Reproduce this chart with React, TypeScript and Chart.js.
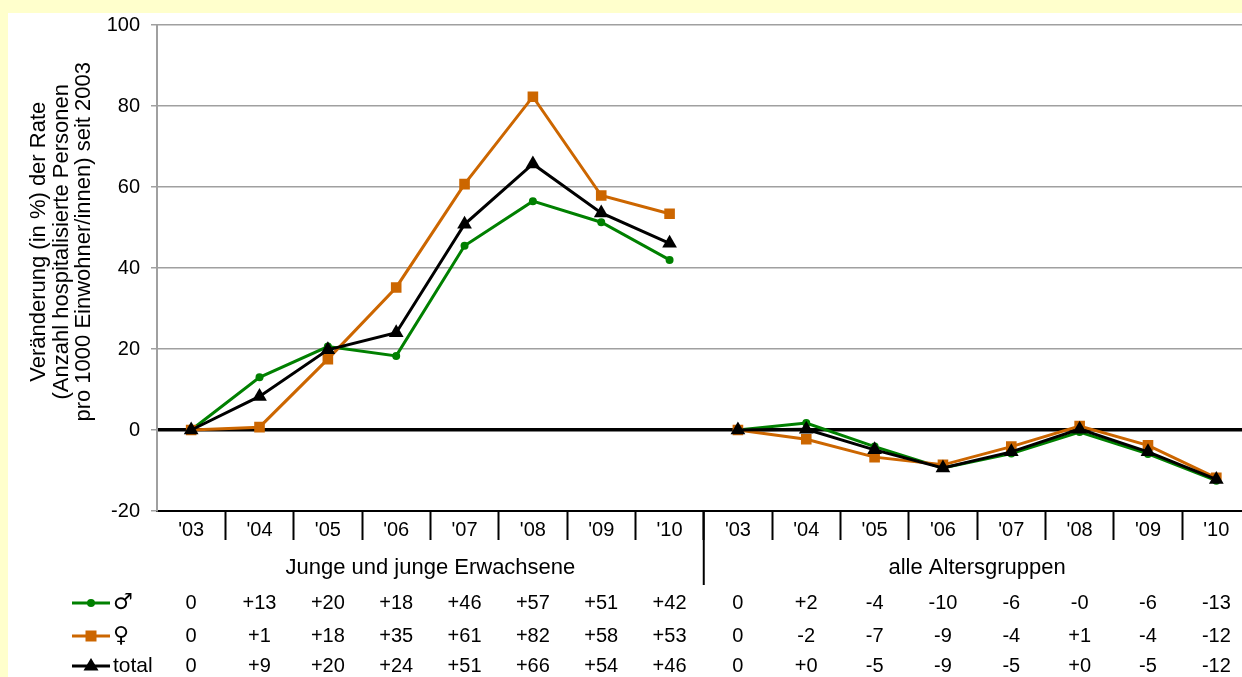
import React, { useEffect, useRef } from 'react';
import { Chart, registerables } from 'chart.js';

Chart.register(...registerables);

const YEARS = ["'03", "'04", "'05", "'06", "'07", "'08", "'09", "'10"];
const CATEGORIES = [...YEARS, ...YEARS];
const GROUPS = ['Junge und junge Erwachsene', 'alle Altersgruppen'];
const SERIES_NAMES = ['♂', '♀', 'total'];
const MALE = [0, 13.0, 20.6, 18.3, 45.5, 56.5, 51.3, 42.0, 0, 1.7, -4.1, -9.4, -5.8, -0.5, -5.9, -12.5];
const FEMALE = [0, 0.7, 17.5, 35.2, 60.7, 82.3, 57.9, 53.4, 0, -2.3, -6.7, -8.6, -4.1, 1.0, -3.8, -11.8];
const TOTAL = [0, 8.3, 19.8, 24.0, 50.8, 65.7, 53.6, 46.1, 0, 0.2, -4.9, -9.4, -5.4, 0.2, -5.4, -12.2];
const MALE_LABELS = ['0', '+13', '+20', '+18', '+46', '+57', '+51', '+42', '0', '+2', '-4', '-10', '-6', '-0', '-6', '-13'];
const FEMALE_LABELS = ['0', '+1', '+18', '+35', '+61', '+82', '+58', '+53', '0', '-2', '-7', '-9', '-4', '+1', '-4', '-12'];
const TOTAL_LABELS = ['0', '+9', '+20', '+24', '+51', '+66', '+54', '+46', '0', '+0', '-5', '-9', '-5', '+0', '-5', '-12'];
const Y_MIN = -20;
const Y_MAX = 100;
const Y_STEP = 20;
const Y_TITLE = [
  'Veränderung (in %) der Rate',
  '(Anzahl hospitalisierte Personen',
  'pro 1000 Einwohner/innen) seit 2003',
];

const GREEN = '#008000';
const ORANGE = '#CC6600';
const BLACK = '#000000';
const FONT = '"Liberation Sans", Arial, "DejaVu Sans", sans-serif';
const SYMBOL_FONT = '"DejaVu Sans", "Liberation Sans", sans-serif';

const GROUP_SIZE = YEARS.length;

function segColor(color: string) {
  return (ctx: any) => (ctx.p0DataIndex === GROUP_SIZE - 1 ? 'rgba(0,0,0,0)' : color);
}

function drawMarker(ctx: CanvasRenderingContext2D, kind: string, x: number, y: number, color: string) {
  ctx.fillStyle = color;
  ctx.beginPath();
  if (kind === 'circle') {
    ctx.arc(x, y, 4, 0, Math.PI * 2);
  } else if (kind === 'rect') {
    ctx.rect(x - 5.5, y - 5.5, 11, 11);
  } else {
    ctx.moveTo(x, y - 8);
    ctx.lineTo(x + 7.5, y + 4.5);
    ctx.lineTo(x - 7.5, y + 4.5);
    ctx.closePath();
  }
  ctx.fill();
}

const tablePlugin = {
  id: 'dataTable',
  afterDraw(chart: any) {
    const ctx: CanvasRenderingContext2D = chart.ctx;
    const x = chart.scales.x;
    const y = chart.scales.y;
    const top = x.top;
    ctx.save();

    // y axis title (three lines, rotated)
    ctx.fillStyle = '#000';
    ctx.font = `22px ${FONT}`;
    ctx.textAlign = 'center';
    ctx.textBaseline = 'alphabetic';
    const titleCenterY = y.top + (y.bottom - y.top) * 0.446;
    const baselines = [37, 60, 82];
    Y_TITLE.forEach((line, i) => {
      ctx.save();
      ctx.translate(baselines[i], titleCenterY);
      ctx.rotate(-Math.PI / 2);
      ctx.fillText(line, 0, 0);
      ctx.restore();
    });

    const sepX = (x.getPixelForValue(GROUP_SIZE - 1) + x.getPixelForValue(GROUP_SIZE)) / 2;
    ctx.strokeStyle = '#000';
    ctx.lineWidth = 2;
    ctx.beginPath();
    ctx.moveTo(sepX, top);
    ctx.lineTo(sepX, top + 74);
    ctx.stroke();

    ctx.fillStyle = '#000';
    ctx.textAlign = 'center';
    ctx.textBaseline = 'middle';
    ctx.font = `22px ${FONT}`;
    ctx.fillText(GROUPS[0], (x.left + sepX) / 2, top + 57);
    ctx.fillText(GROUPS[1], (sepX + x.right) / 2, top + 57);

    const rows = [
      { labels: MALE_LABELS, color: GREEN, marker: 'circle', name: SERIES_NAMES[0], y: top + 92 },
      { labels: FEMALE_LABELS, color: ORANGE, marker: 'rect', name: SERIES_NAMES[1], y: top + 125 },
      { labels: TOTAL_LABELS, color: BLACK, marker: 'triangle', name: SERIES_NAMES[2], y: top + 155 },
    ];
    rows.forEach((r) => {
      ctx.textAlign = 'center';
      ctx.fillStyle = '#000';
      ctx.font = `20px ${FONT}`;
      r.labels.forEach((t, i) => {
        ctx.fillText(t, x.getPixelForValue(i), r.y);
      });
      ctx.strokeStyle = r.color;
      ctx.lineWidth = 3;
      ctx.beginPath();
      ctx.moveTo(64, r.y);
      ctx.lineTo(102, r.y);
      ctx.stroke();
      drawMarker(ctx, r.marker, 83, r.y, r.color);
      ctx.fillStyle = '#000';
      ctx.textAlign = 'left';
      ctx.font = r.name === 'total' ? `21px ${FONT}` : `22px ${SYMBOL_FONT}`;
      ctx.fillText(r.name, 105, r.y);
    });
    ctx.restore();
  },
};

const CANVAS_W = 1251;
const CANVAS_H = 664;

export default function App() {
  const ref = useRef<HTMLCanvasElement | null>(null);

  useEffect(() => {
    if (!ref.current) return;
    Chart.defaults.font.family = FONT;
    const chart = new Chart(ref.current, {
      type: 'line',
      data: {
        labels: CATEGORIES,
        datasets: [
          {
            label: SERIES_NAMES[0],
            data: MALE,
            borderColor: GREEN,
            backgroundColor: GREEN,
            borderWidth: 3,
            pointStyle: 'circle',
            pointRadius: 4,
            pointBorderWidth: 0,
            order: 2,
            segment: { borderColor: segColor(GREEN) },
          },
          {
            label: SERIES_NAMES[1],
            data: FEMALE,
            borderColor: ORANGE,
            backgroundColor: ORANGE,
            borderWidth: 3,
            pointStyle: 'rect',
            pointRadius: 7.5,
            pointBorderWidth: 0,
            order: 1,
            segment: { borderColor: segColor(ORANGE) },
          },
          {
            label: SERIES_NAMES[2],
            data: TOTAL,
            borderColor: BLACK,
            backgroundColor: BLACK,
            borderWidth: 3,
            pointStyle: 'triangle',
            pointRadius: 8.5,
            pointBorderWidth: 0,
            order: 0,
            segment: { borderColor: segColor(BLACK) },
          },
        ],
      },
      options: {
        responsive: false,
        animation: false,
        devicePixelRatio: 1,
        layout: { padding: { top: 12, left: 0, right: 0, bottom: 0 } },
        plugins: {
          legend: { display: false },
          tooltip: { enabled: false },
        },
        scales: {
          x: {
            type: 'category',
            offset: true,
            afterFit: (s: any) => {
              s.height = 166;
              s.paddingLeft = 0;
              s.paddingRight = 0;
            },
            grid: {
              offset: true,
              drawOnChartArea: false,
              drawTicks: true,
              tickLength: 29,
              tickWidth: 2,
              tickColor: (c: any) => (c.index === 0 ? 'rgba(0,0,0,0)' : '#000'),
            },
            border: { display: true, color: '#000', width: 2 },
            ticks: {
              color: '#000',
              font: { size: 20 },
              padding: -22,
              maxRotation: 0,
              autoSkip: false,
            },
          },
          y: {
            min: Y_MIN,
            max: Y_MAX,
            afterFit: (s: any) => {
              s.width = 149;
              s.paddingTop = 0;
              s.paddingBottom = 0;
            },
            ticks: {
              stepSize: Y_STEP,
              color: '#000',
              font: { size: 20 },
              padding: 11,
            },
            grid: {
              color: (c: any) =>
                c.tick && c.tick.value === 0 ? '#000' : c.tick && c.tick.value === Y_MIN ? 'rgba(0,0,0,0)' : '#a0a0a0',
              lineWidth: (c: any) => (c.tick && c.tick.value === 0 ? 3.5 : 1.5),
              tickColor: '#a0a0a0',
              tickLength: 6,
              tickWidth: 1.5,
            },
            border: { display: true, color: '#a0a0a0', width: 2 },
            title: { display: false },
          },
        },
      },
      plugins: [tablePlugin],
    });
    return () => chart.destroy();
  }, []);

  return (
    <div style={{ position: 'fixed', inset: 0, background: '#FFFFCC', overflow: 'hidden' }}>
      <div style={{ position: 'absolute', left: 8, top: 13, width: CANVAS_W, height: CANVAS_H, background: '#fff' }}>
        <canvas
          ref={ref}
          width={CANVAS_W}
          height={CANVAS_H}
          style={{ display: 'block', width: CANVAS_W, height: CANVAS_H }}
        />
      </div>
    </div>
  );
}
